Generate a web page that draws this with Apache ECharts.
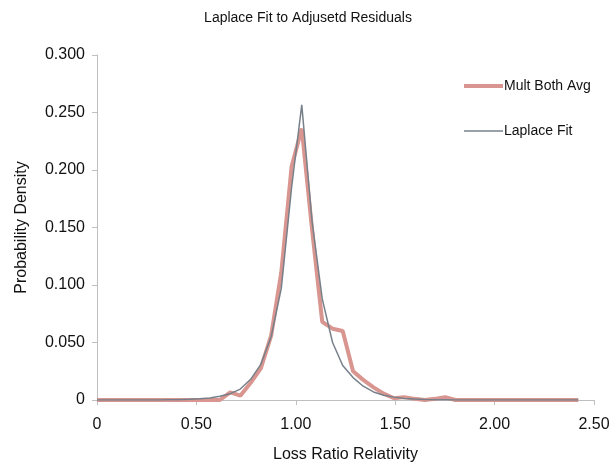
<!DOCTYPE html>
<html>
<head>
<meta charset="utf-8">
<script src="https://cdn.jsdelivr.net/npm/echarts@6/dist/echarts.min.js"></script>
<style>
  html, body { margin: 0; padding: 0; background: #fff; }
  #main { width: 615px; height: 468px; }
</style>
</head>
<body>
<div id="main"></div>
<script>
// loss ratio relativity grid (x)
var relativity = [
    0, 0.052, 0.103, 0.155, 0.206, 0.258, 0.309, 0.361, 0.412, 0.464,
    0.515, 0.567, 0.618, 0.670, 0.721, 0.773, 0.824, 0.876, 0.927, 0.979,
    1.030, 1.082, 1.133, 1.185, 1.236, 1.288, 1.339, 1.391, 1.442, 1.494,
    1.545, 1.597, 1.648, 1.700, 1.751, 1.803, 1.854, 1.906, 1.957, 2.009,
    2.060, 2.112, 2.163, 2.215, 2.266, 2.318, 2.369, 2.421
];

// observed residual density
var multBothAvg = [
    0, 0, 0, 0, 0, 0, 0, 0, 0, 0,
    0, 0, 0, 0.0066, 0.0038, 0.015, 0.0275, 0.056, 0.111, 0.203,
    0.236, 0.148, 0.068, 0.062, 0.060, 0.025, 0.0175, 0.011, 0.0055, 0.0015,
    0.0025, 0.001, 0, 0.001, 0.0025, 0, 0, 0, 0, 0,
    0, 0, 0, 0, 0, 0, 0, 0
];

// fitted laplace density
var laplaceFit = [
    0, 0, 0, 0, 0, 0, 0.0001, 0.0002, 0.0003, 0.0006,
    0.001, 0.0017, 0.0032, 0.0055, 0.0095, 0.018, 0.031, 0.055, 0.097, 0.185,
    0.2566, 0.155, 0.088, 0.050, 0.030, 0.0195, 0.012, 0.007, 0.0042, 0.0025,
    0.0014, 0.0008, 0.0005, 0.0003, 0.0002, 0.0001, 0, 0, 0, 0,
    0, 0, 0, 0, 0, 0, 0, 0
];

var seriesNames = ['Mult Both Avg', 'Laplace Fit'];

function pairs(xs, ys) {
    return xs.map(function (x, i) { return [x, ys[i]]; });
}

var myChart = echarts.init(document.getElementById('main'));

var font = 'Liberation Sans, Arial, sans-serif';

var option = {
    animation: false,
    backgroundColor: '#fff',
    textStyle: { fontFamily: font },
    title: {
        text: 'Laplace Fit to Adjusetd Residuals',
        left: 303,
        textAlign: 'center',
        top: 6,
        textStyle: { fontSize: 14, fontWeight: 'normal', color: '#111', fontFamily: font }
    },
    legend: {
        orient: 'vertical',
        left: 459,
        top: 74,
        itemWidth: 39,
        itemHeight: 14,
        itemGap: 31,
        textStyle: { fontSize: 14, color: '#111', fontFamily: font, padding: [0, 0, 0, -4] },
        data: [
            { name: seriesNames[0], icon: 'path://M0,0H40V4H0Z' },
            { name: seriesNames[1], icon: 'path://M0,0H40V1.5H0Z' }
        ]
    },
    grid: {
        left: 97,
        right: 21,
        top: 55,
        bottom: 67,
        containLabel: false
    },
    xAxis: {
        type: 'value',
        min: 0,
        max: 2.5,
        interval: 0.5,
        name: 'Loss Ratio Relativity',
        nameLocation: 'middle',
        nameGap: 47,
        nameTextStyle: { fontSize: 16, color: '#111', fontFamily: font },
        axisLine: { lineStyle: { color: '#bfbfbf', width: 1 } },
        axisTick: { show: true, length: 5, lineStyle: { color: '#bfbfbf' } },
        axisLabel: {
            fontSize: 16, color: '#111', margin: 17, fontFamily: font,
            formatter: function (v) { return v === 0 ? '0' : v.toFixed(2); }
        },
        splitLine: { show: false }
    },
    yAxis: {
        type: 'value',
        min: 0,
        max: 0.3,
        interval: 0.05,
        name: 'Probability Density',
        nameLocation: 'middle',
        nameGap: 67,
        nameTextStyle: { fontSize: 16, color: '#111', fontFamily: font },
        axisLine: { show: true, lineStyle: { color: '#bfbfbf', width: 1 } },
        axisTick: { show: true, length: 5, lineStyle: { color: '#bfbfbf' } },
        axisLabel: {
            fontSize: 16, color: '#111', margin: 12, fontFamily: font,
            formatter: function (v) { return v === 0 ? '0' : v.toFixed(3); }
        },
        splitLine: { show: false }
    },
    series: [
        {
            name: seriesNames[0],
            type: 'line',
            symbol: 'none',
            data: pairs(relativity, multBothAvg),
            lineStyle: { color: '#d9958f', width: 4 },
            itemStyle: { color: '#d9958f' }
        },
        {
            name: seriesNames[1],
            type: 'line',
            symbol: 'none',
            data: pairs(relativity, laplaceFit),
            lineStyle: { color: '#77808a', width: 1.5 },
            itemStyle: { color: '#77808a' }
        }
    ]
};

myChart.setOption(option);
</script>
</body>
</html>
